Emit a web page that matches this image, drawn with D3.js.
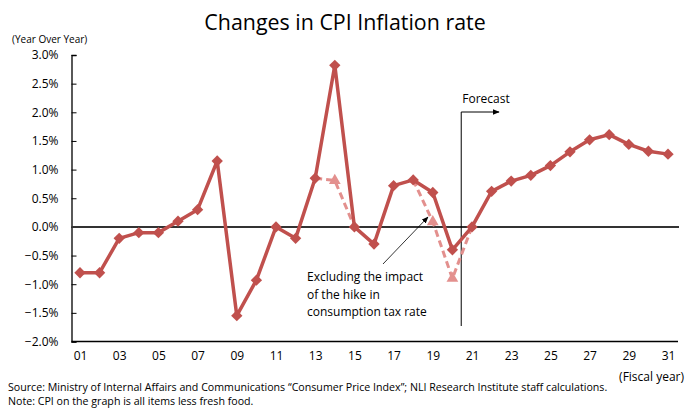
<!DOCTYPE html>
<html><head><meta charset="utf-8">
<script src="https://cdn.jsdelivr.net/npm/d3@7"></script>
<style>body{margin:0;background:#fff;} svg{display:block;font-family:"Open Sans",sans-serif;}</style>
</head><body>
<svg id="c" width="685" height="408"></svg>
<script>
const years = [1,2,3,4,5,6,7,8,9,10,11,12,13,14,15,16,17,18,19,20,21,22,23,24,25,26,27,28,29,30,31];
const cpi = [-0.8,-0.8,-0.2,-0.1,-0.1,0.1,0.3,1.15,-1.55,-0.93,0.0,-0.2,0.85,2.82,0.0,-0.3,0.72,0.82,0.6,-0.4,0.0,0.62,0.8,0.9,1.07,1.31,1.52,1.61,1.44,1.32,1.27];
const exTaxA = [{year:13,v:0.85},{year:14,v:0.81},{year:15,v:0.0}];
const exTaxB = [{year:18,v:0.82},{year:19,v:0.09},{year:20,v:-0.9},{year:21,v:0.0}];
const triangleYears = [14,19,20];
const yTicks = [-2.0,-1.5,-1.0,-0.5,0.0,0.5,1.0,1.5,2.0,2.5,3.0];
const xTickYears = [1,3,5,7,9,11,13,15,17,19,21,23,25,27,29,31];
const forecastStart = 20.45;
const annotationLines = ["Excluding the impact","of the hike in","consumption tax rate"];

const svg = d3.select("#c");
const x = d3.scaleLinear().domain([1,31]).range([80,668]);
const y = d3.scaleLinear().domain([-2,3]).range([341.5,55]);
const red = "#c0504d", pink = "#e3908e";

svg.append("defs").append("marker").attr("id","ah").attr("viewBox","0 0 10 10")
  .attr("refX",9).attr("refY",5).attr("markerWidth",7).attr("markerHeight",7)
  .attr("markerUnits","userSpaceOnUse").attr("orient","auto")
  .append("path").attr("d","M0,1 L10,5 L0,9 Z").attr("fill","#000");

// title
svg.append("text").attr("x",345).attr("y",30).attr("text-anchor","middle")
  .attr("font-size",21.4).attr("fill","#000").text("Changes in CPI Inflation rate");
svg.append("text").attr("x",12).attr("y",43).attr("font-size",10).attr("fill","#000").text("(Year Over Year)");

// y axis
const yAxis = d3.axisLeft(y).tickValues(yTicks).tickSize(-5).tickPadding(13)
  .tickFormat(d => (d<0?"\u2212":"") + Math.abs(d).toFixed(1) + "%");
const ga = svg.append("g").attr("transform","translate(71.5,0)").call(yAxis);
ga.select(".domain").attr("stroke","#000").attr("stroke-width",1.3);
ga.selectAll(".tick line").attr("stroke","#000");
ga.selectAll(".tick text").attr("font-size",12).attr("fill","#000").attr("font-family","'Open Sans',sans-serif");

// x axis (bottom line + labels)
const xAxis = d3.axisBottom(x).tickValues(xTickYears).tickSize(0).tickPadding(10)
  .tickFormat(d => String(d).padStart(2,"0"));
const gx = svg.append("g").attr("transform",`translate(0,${y(-2)})`).call(xAxis);
gx.select(".domain").attr("d",`M71.5,0H678`).attr("stroke","#000").attr("stroke-width",1.3);
gx.selectAll(".tick text").attr("font-size",12).attr("fill","#000").attr("font-family","'Open Sans',sans-serif");

svg.append("text").attr("x",684).attr("y",381).attr("text-anchor","end").attr("font-size",12).text("(Fiscal year)");

// zero line
svg.append("line").attr("x1",71.5).attr("x2",679).attr("y1",y(0)).attr("y2",y(0))
  .attr("stroke","#333").attr("stroke-width",2);

// forecast marker
const fx = x(forecastStart);
svg.append("path").attr("d",`M${fx},326V112H499`).attr("fill","none").attr("stroke","#000")
  .attr("stroke-width",1).attr("marker-end","url(#ah)");
svg.append("text").attr("x",fx+1).attr("y",103).attr("font-size",12).text("Forecast");

// dashed ex-tax series
const lineD = d3.line().x(d=>x(d.year)).y(d=>y(d.v));
[exTaxA, exTaxB].forEach(s => {
  svg.append("path").attr("d",lineD(s)).attr("fill","none").attr("stroke",pink)
    .attr("stroke-width",3).attr("stroke-dasharray","7,4");
});
const allEx = exTaxA.concat(exTaxB).filter(d => triangleYears.includes(d.year));
svg.selectAll(".tri").data(allEx).enter().append("path")
  .attr("d",d3.symbol().type(d3.symbolTriangle).size(60)())
  .attr("transform",d=>`translate(${x(d.year)},${y(d.v)})`).attr("fill",pink);

// main series
const main = years.map((yr,i)=>({year:yr,v:cpi[i]}));
svg.append("path").attr("d",lineD(main)).attr("fill","none").attr("stroke",red)
  .attr("stroke-width",3.5).attr("stroke-linejoin","round");
svg.selectAll(".dia").data(main).enter().append("rect")
  .attr("x",-4).attr("y",-4).attr("width",8).attr("height",8)
  .attr("transform",d=>`translate(${x(d.year)},${y(d.v)}) rotate(45)`).attr("fill",red);

// annotation
svg.append("line").attr("x1",383).attr("y1",264).attr("x2",428).attr("y2",217)
  .attr("stroke","#000").attr("stroke-width",0.8).attr("marker-end","url(#ah)");
annotationLines.forEach((t,i)=>{
  svg.append("text").attr("x",307).attr("y",281+i*17.5).attr("font-size",12).text(t);
});

// footnotes
svg.append("text").attr("x",8).attr("y",391).attr("font-size",10.65)
  .text("Source: Ministry of Internal Affairs and Communications \u201CConsumer Price Index\u201D; NLI Research Institute staff calculations.");
svg.append("text").attr("x",8).attr("y",405).attr("font-size",10.65)
  .text("Note: CPI on the graph is all items less fresh food.");
</script>
</body></html>
